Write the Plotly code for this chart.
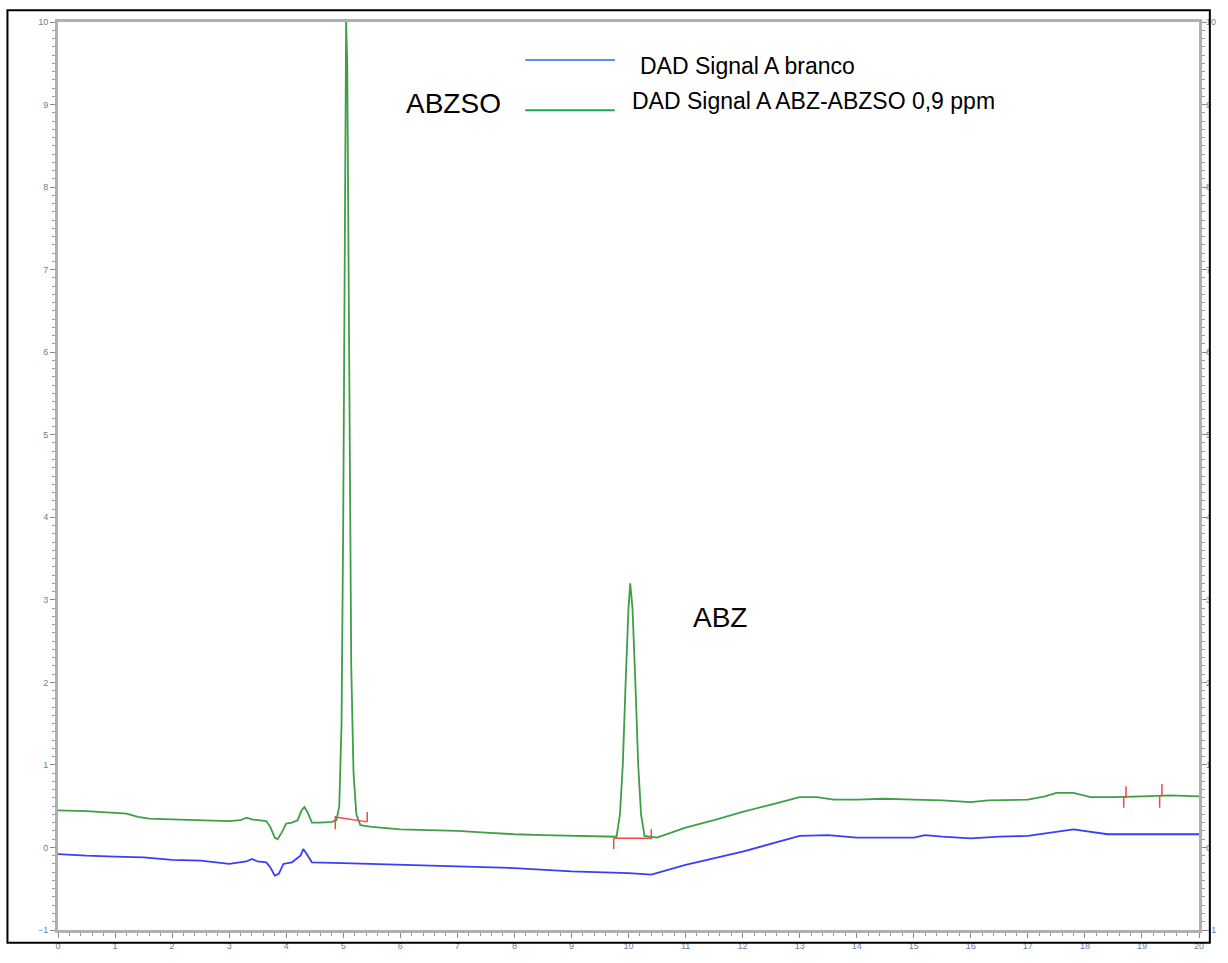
import plotly.graph_objects as go

# ---- data (retention time in min, signal) ----
green_x = [0.0, 0.5, 1.0, 1.2, 1.4, 1.6, 2.0, 2.5, 3.0, 3.2, 3.3, 3.4, 3.5, 3.65, 3.72, 3.8, 3.85,
           3.92, 4.0, 4.1, 4.2, 4.27, 4.32, 4.38, 4.45, 4.6, 4.8, 4.88, 4.93, 4.97, 5.0, 5.02,
           5.04, 5.05, 5.07, 5.09, 5.11, 5.14, 5.18, 5.23, 5.3, 5.5, 6.0, 6.5, 7.0, 7.5, 8.0,
           8.5, 9.0, 9.5, 9.79, 9.85, 9.9, 9.95, 10.0, 10.03, 10.07, 10.12, 10.17, 10.22,
           10.28, 10.5, 11.0, 11.5, 12.0, 12.5, 13.0, 13.3, 13.6, 14.0, 14.5, 15.0, 15.5,
           16.0, 16.3, 17.0, 17.3, 17.5, 17.8, 18.1, 18.5, 19.0, 19.5, 20.0]
green_y = [0.45, 0.44, 0.42, 0.41, 0.37, 0.35, 0.34, 0.33, 0.32, 0.33, 0.36, 0.34, 0.33, 0.32,
           0.25, 0.12, 0.10, 0.18, 0.29, 0.30, 0.33, 0.45, 0.49, 0.42, 0.30, 0.30, 0.31, 0.33,
           0.50, 1.5, 4.0, 7.0, 9.4, 10.0, 9.5, 7.5, 4.8, 2.2, 0.9, 0.4, 0.27, 0.25, 0.22, 0.21,
           0.20, 0.18, 0.16, 0.15, 0.14, 0.13, 0.13, 0.4, 1.0, 2.0, 2.9, 3.2, 2.9, 2.0, 1.0,
           0.4, 0.14, 0.12, 0.24, 0.33, 0.43, 0.52, 0.61, 0.61, 0.58, 0.58, 0.59, 0.58, 0.57,
           0.55, 0.57, 0.58, 0.62, 0.66, 0.66, 0.61, 0.61, 0.62, 0.63, 0.62]

blue_x = [0.0, 0.5, 1.0, 1.5, 2.0, 2.5, 3.0, 3.3, 3.4, 3.5, 3.65, 3.72, 3.8, 3.87, 3.95, 4.1,
          4.25, 4.3, 4.36, 4.45, 5.0, 6.0, 7.0, 8.0, 9.0, 10.0, 10.4, 11.0, 12.0, 13.0, 13.5,
          14.0, 15.0, 15.2, 15.5, 16.0, 16.5, 17.0, 17.8, 18.4, 19.0, 20.0]
blue_y = [-0.08, -0.10, -0.11, -0.12, -0.15, -0.16, -0.20, -0.17, -0.14, -0.17, -0.18, -0.24,
          -0.34, -0.32, -0.20, -0.18, -0.10, -0.02, -0.08, -0.18, -0.19, -0.21, -0.23, -0.25,
          -0.29, -0.31, -0.33, -0.21, -0.05, 0.14, 0.15, 0.12, 0.12, 0.15, 0.13, 0.11, 0.13,
          0.14, 0.22, 0.16, 0.16, 0.16]

# integration baselines / markers (red)
base_x = [4.86, 4.86, None, 4.86, 5.42, None, 5.42, 5.42, None,
          9.74, 9.74, None, 9.74, 10.40, None, 10.40, 10.40, None,
          18.68, 18.68, 18.72, 18.72, None, 19.31, 19.31, 19.35, 19.35]
base_y = [0.22, 0.38, None, 0.37, 0.31, None, 0.31, 0.43, None,
          -0.02, 0.11, None, 0.11, 0.11, None, 0.10, 0.22, None,
          0.48, 0.61, 0.61, 0.74, None, 0.48, 0.62, 0.63, 0.77]

series_names = ["DAD Signal A branco", "DAD Signal A ABZ-ABZSO 0,9 ppm"]
peak_labels = ["ABZSO", "ABZ"]
peak_label_x = [6.93, 11.6]
peak_label_y = [9.01, 2.79]
y_ticks = list(range(-1, 11))
x_ticks = list(range(0, 21))

fig = go.Figure()
fig.add_trace(go.Scatter(x=blue_x, y=blue_y, mode="lines",
                         line=dict(color="#3d3df5", width=1.8), name=series_names[0]))
fig.add_trace(go.Scatter(x=green_x, y=green_y, mode="lines",
                         line=dict(color="#3f9e47", width=1.8), name=series_names[1]))
fig.add_trace(go.Scatter(x=base_x, y=base_y, mode="lines",
                         line=dict(color="#f04848", width=1.5), connectgaps=False))
fig.add_trace(go.Scatter(x=[None], y=[None], yaxis="y2", mode="lines"))

# manual legend
leg_y_line = [9.54, 8.93]
leg_y_text = [9.47, 9.04]
leg_text_x = [10.16, 10.03]
leg_colors = ["#5b8ee6", "#1aaa50"]
for i in range(2):
    fig.add_shape(type="line", xref="x", yref="y", x0=8.19, x1=9.76,
                  y0=leg_y_line[i], y1=leg_y_line[i],
                  line=dict(color=leg_colors[i], width=2))
    fig.add_annotation(x=leg_text_x[i], y=leg_y_text[i], xref="x", yref="y",
                       text=series_names[i], showarrow=False, xanchor="left",
                       font=dict(family="Liberation Sans, Arial", size=23, color="black"))

for i in range(2):
    fig.add_annotation(x=peak_label_x[i], y=peak_label_y[i], xref="x", yref="y",
                       text=peak_labels[i], showarrow=False,
                       font=dict(family="Liberation Sans, Arial", size=28, color="black"))

# outer frame
fig.add_shape(type="rect", xref="paper", yref="paper",
              x0=-0.0443, x1=1.0095, y0=-0.0141, y1=1.013,
              line=dict(color="black", width=2))

tickfont = dict(family="Liberation Sans, Arial", size=9, color="#6a7d9a")
fig.update_layout(
    width=1228, height=963,
    margin=dict(l=58, r=18, t=22, b=21),
    paper_bgcolor="white", plot_bgcolor="white",
    showlegend=False,
    xaxis=dict(range=[0, 20], tickvals=x_ticks, showgrid=False, zeroline=False,
               showline=True, linecolor="#b0b0b0", linewidth=3, mirror=True,
               ticks="outside", ticklen=5, tickcolor="#8a8a8a", tickwidth=1,
               minor=dict(dtick=0.2, ticks="outside", ticklen=3, tickcolor="#9a9a9a"),
               tickfont=tickfont),
    yaxis=dict(range=[-1, 10], tickvals=y_ticks, showgrid=False, zeroline=False,
               showline=True, linecolor="#b0b0b0", linewidth=3, mirror="allticks",
               ticks="outside", ticklen=5, tickcolor="#8a8a8a", tickwidth=1,
               minor=dict(dtick=0.1, ticks="outside", ticklen=3, tickcolor="#9a9a9a"),
               tickfont=tickfont),
    yaxis2=dict(range=[-1, 10], tickvals=y_ticks, overlaying="y", side="right",
                showgrid=False, zeroline=False, showline=False, ticks="",
                tickfont=tickfont, ticklabelstandoff=6),
)

fig.write_html("out.html")
